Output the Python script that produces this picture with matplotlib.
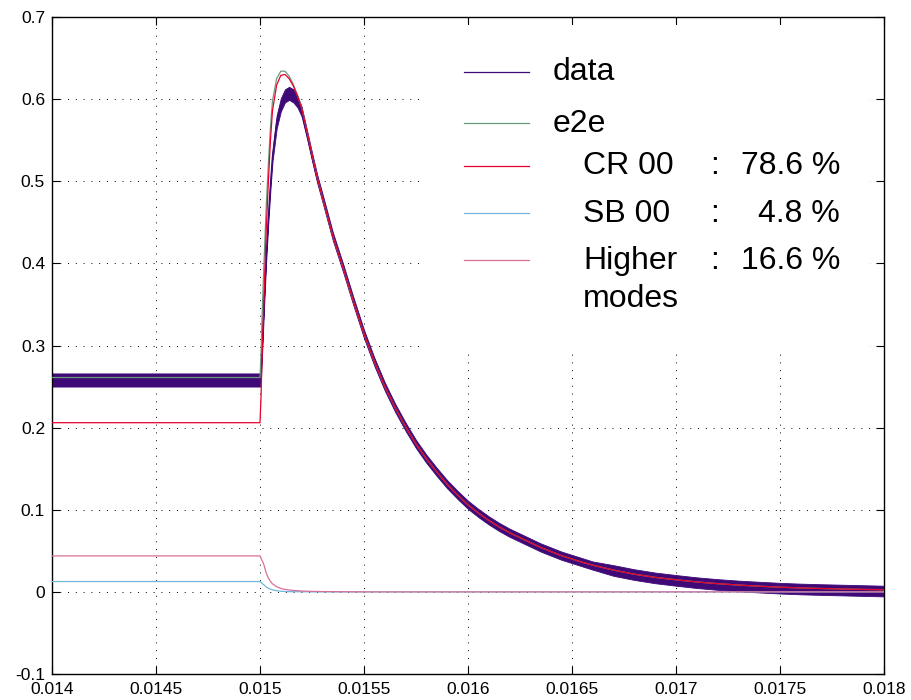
import matplotlib
matplotlib.use('Agg')
import matplotlib.pyplot as plt
from matplotlib.patches import Rectangle
from matplotlib.ticker import FuncFormatter, MultipleLocator

# time axis (s): dense around the pulse edge, coarser in the tail
time_s = [0.0140, 0.01500, 0.015005, 0.01501, 0.015015, 0.01502, 0.01503,
          0.01504, 0.01505, 0.01506, 0.01508, 0.01510, 0.01512, 0.01514,
          0.01516, 0.01518, 0.01520, 0.015225, 0.01525, 0.015275,
          0.01530, 0.01535, 0.01540, 0.01545, 0.01550, 0.01555, 0.01560,
          0.01565, 0.01570, 0.01575, 0.01580, 0.01585, 0.01590, 0.01595,
          0.01600, 0.01605, 0.01610, 0.01615, 0.01620, 0.01625, 0.01630,
          0.01635, 0.01640, 0.01645, 0.01650, 0.01655, 0.01660,
          0.01670, 0.01680, 0.01690, 0.01700, 0.01710, 0.01720, 0.01730,
          0.01740, 0.01750, 0.01760, 0.01770, 0.01780, 0.01790, 0.01800]

# pulse part (first 20 samples, up to 0.015275 s)
e2e_head = [0.261, 0.261, 0.290, 0.335, 0.372, 0.405, 0.470, 0.520, 0.565,
            0.598, 0.625, 0.634, 0.634, 0.628, 0.618, 0.605, 0.590, 0.562,
            0.533, 0.505]
cr00_head = [0.206, 0.206, 0.238, 0.287, 0.327, 0.365, 0.441, 0.498, 0.549,
             0.586, 0.617, 0.629, 0.630, 0.625, 0.616, 0.604, 0.589, 0.562,
             0.533, 0.505]
sb00_head = [0.0126, 0.0126, 0.0115, 0.0103, 0.0092, 0.0083, 0.0060, 0.0045,
             0.0033, 0.0025, 0.0014, 0.0008, 0.0005, 0.0003, 0.0002, 0.0002,
             0.0001, 0.0001, 0.0, 0.0]
higher_head = [0.0438, 0.0438, 0.0410, 0.0380, 0.0355, 0.0320, 0.0230,
               0.0170, 0.0130, 0.0098, 0.0063, 0.0042, 0.0030, 0.0023,
               0.0017, 0.0014, 0.0011, 0.0008, 0.0006, 0.0005]
data_head = [0.258, 0.258, 0.268, 0.295, 0.325, 0.355, 0.410, 0.455, 0.495,
             0.530, 0.572, 0.593, 0.604, 0.607, 0.604, 0.597, 0.585, 0.558,
             0.530, 0.503]

# decay tail (41 samples from 0.0153 s), shared by the fit and the CR 00 mode
decay_tail = [0.480, 0.433, 0.394, 0.353, 0.314, 0.280, 0.250, 0.224, 0.201,
              0.180, 0.162, 0.146, 0.131, 0.118, 0.106, 0.096, 0.087, 0.079,
              0.072, 0.066, 0.060, 0.054, 0.049, 0.044, 0.040, 0.036, 0.0325,
              0.0265, 0.0215, 0.0177, 0.0147, 0.0121, 0.0100, 0.0083, 0.0069,
              0.0057, 0.0048, 0.0041, 0.0035, 0.0030, 0.0026]
higher_tail = [0.0004, 0.0003, 0.0002, 0.0001] + [0.0] * 37
sb00_tail = [0.0] * 41
data_tail = [0.480, 0.433, 0.394, 0.353, 0.314, 0.280, 0.250, 0.224, 0.201,
             0.180, 0.162, 0.146, 0.131, 0.118, 0.106, 0.096, 0.087, 0.079,
             0.072, 0.066, 0.060, 0.054, 0.049, 0.044, 0.040, 0.036, 0.0320,
             0.0260, 0.0210, 0.0170, 0.0140, 0.0112, 0.0090, 0.0072, 0.0058,
             0.0045, 0.0035, 0.0028, 0.0022, 0.0016, 0.0010]

# half width of the noise band on the measured trace
noise_head = [0.008, 0.008, 0.006, 0.006, 0.006, 0.006, 0.006, 0.006, 0.006,
              0.006, 0.008, 0.008, 0.008, 0.008, 0.008, 0.007, 0.006, 0.005,
              0.005, 0.005]
noise_tail = [0.005] * 27 + [0.0065] * 14

e2e = e2e_head + decay_tail
cr00 = cr00_head + decay_tail
sb00 = sb00_head + sb00_tail
higher = higher_head + higher_tail
data_mean = data_head + data_tail
data_noise = noise_head + noise_tail

labels = ["data", "e2e", "CR 00", "SB 00", "Higher\nmodes"]
shares = [None, None, 78.6, 4.8, 16.6]
colors = ["#3f0a78", "#6a9a7a", "#e8002c", "#72b8dc", "#d8709a"]

xticks = [0.014, 0.0145, 0.015, 0.0155, 0.016, 0.0165, 0.017, 0.0175, 0.018]

plt.rcParams['font.family'] = ['Liberation Sans', 'DejaVu Sans']

fig = plt.figure(figsize=(9.12, 7.0), dpi=100)
ax = fig.add_axes([52 / 912, 26 / 700, 832 / 912, 657 / 700])

lo = [m - n for m, n in zip(data_mean, data_noise)]
hi = [m + n for m, n in zip(data_mean, data_noise)]
ax.fill_between(time_s, lo, hi, color=colors[0], linewidth=0.6, zorder=2)
ax.plot(time_s, data_mean, color=colors[0], linewidth=1.0, zorder=2)
for series, c in zip([e2e, cr00, sb00, higher], colors[1:]):
    ax.plot(time_s, series, color=c, linewidth=0.9, zorder=3)

ax.set_xlim(0.014, 0.018)
ax.set_ylim(-0.1, 0.7)
ax.set_xticks(xticks)
ax.yaxis.set_major_locator(MultipleLocator(0.1))
fmt = FuncFormatter(lambda v, pos: '{:g}'.format(round(v, 6)))
ax.xaxis.set_major_formatter(fmt)
ax.yaxis.set_major_formatter(fmt)
ax.tick_params(direction='in', length=6, width=0.8, labelsize=12.5,
               top=True, right=True, colors='black')
ax.tick_params(axis='x', pad=6)
ax.tick_params(axis='y', pad=5)
for s in ax.spines.values():
    s.set_linewidth(1.0)

ax.set_axisbelow(True)
ax.grid(True, color='black', linewidth=0.7, linestyle=(0, (1, 7)))

# legend drawn by hand: white box, no frame
ax.add_patch(Rectangle((0.448, 0.496), 0.535, 0.492, transform=ax.transAxes,
                       facecolor='white', edgecolor='none', zorder=1))
fs = 23
for i, (lab, share, c) in enumerate(zip(labels, shares, colors)):
    hy = 0.917 - 0.0716 * i
    if i == 1:
        hy = 0.839
    ty = hy - 0.0135
    ax.plot([0.4952, 0.5733], [hy, hy], color=c, linewidth=0.9,
            transform=ax.transAxes, zorder=4)
    parts = lab.split("\n")
    if share is None:
        ax.text(0.6022, ty, parts[0], fontsize=fs, va='baseline',
                transform=ax.transAxes, zorder=5)
    else:
        for k, p in enumerate(parts):
            ax.text(0.6382, ty - 0.058 * k, p, fontsize=fs, va='baseline',
                    transform=ax.transAxes, zorder=5)
        ax.text(0.7909, ty, ":", fontsize=fs, va='baseline',
                transform=ax.transAxes, zorder=5)
        ax.text(0.9471, ty, "%.1f %%" % share, fontsize=fs, va='baseline',
                ha='right', transform=ax.transAxes, zorder=5)

fig.savefig("out.png", dpi=100)
